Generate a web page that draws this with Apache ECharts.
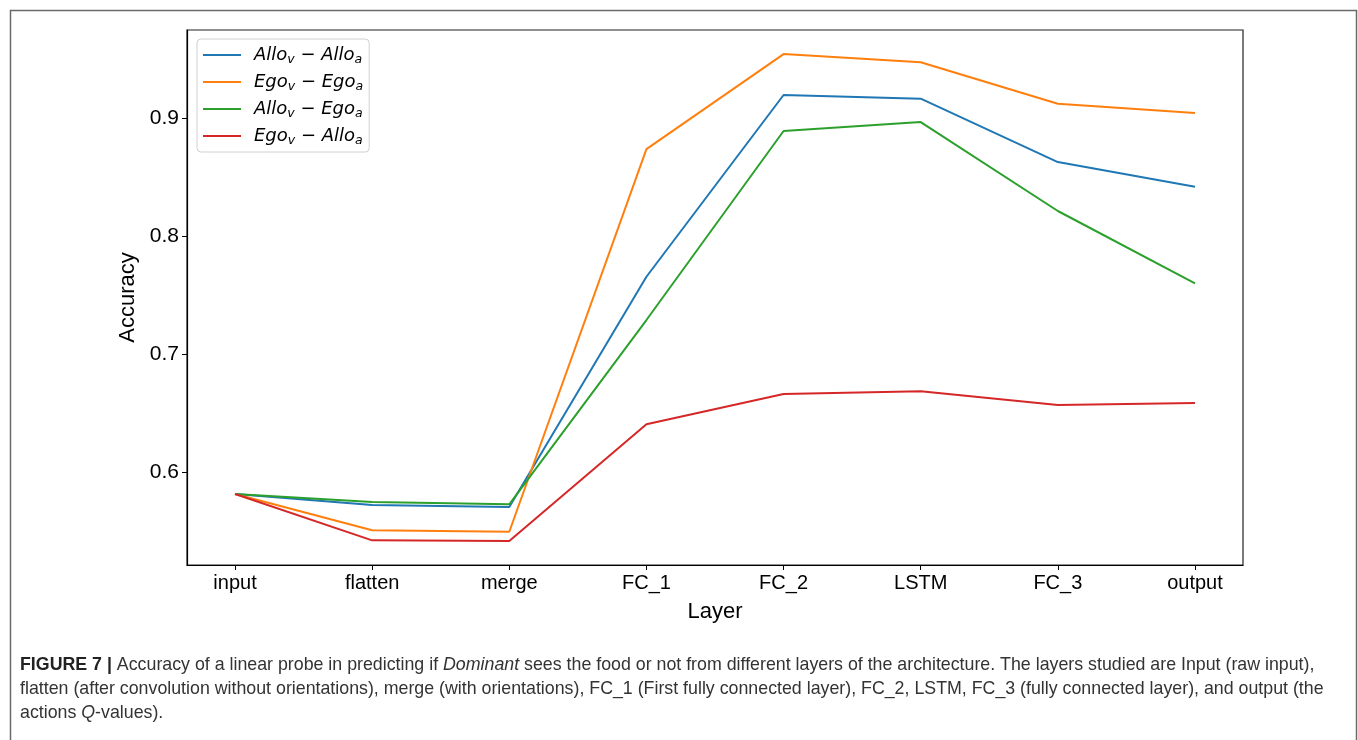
<!DOCTYPE html>
<html>
<head>
<meta charset="utf-8">
<script src="https://cdn.jsdelivr.net/npm/echarts@6/dist/echarts.min.js"></script>
<style>
html,body{margin:0;padding:0;background:#fff;}
#chart{width:1358px;height:740px;}
</style>
</head>
<body>
<div id="chart"></div>
<script>
const layers = ['input','flatten','merge','FC_1','FC_2','LSTM','FC_3','output'];
const yTicks = [0.6, 0.7, 0.8, 0.9];
const alloAllo = [0.5814, 0.5720, 0.5703, 0.7655, 0.9195, 0.9164, 0.8627, 0.8418];
const egoEgo   = [0.5814, 0.5506, 0.5494, 0.8737, 0.9542, 0.9472, 0.9121, 0.9042];
const alloEgo  = [0.5814, 0.5746, 0.5726, 0.7288, 0.8890, 0.8966, 0.8212, 0.7599];
const egoAllo  = [0.5814, 0.5421, 0.5415, 0.6404, 0.6661, 0.6684, 0.6568, 0.6585];
const seriesNames = ['Allo_v − Allo_a','Ego_v − Ego_a','Allo_v − Ego_a','Ego_v − Allo_a'];
const seriesValues = [alloAllo, egoEgo, alloEgo, egoAllo];
const colors = ['#1f77b4','#ff7f0e','#2ca02c','#d62728'];

const chart = echarts.init(document.getElementById('chart'), null, {renderer:'canvas'});
const font = '"Liberation Sans", Arial, Helvetica, sans-serif';

function legendFmt(name){
  return name.replace(/_(\w)/g, '{sub|$1}').replace(/([A-Za-z]+)(?=\{sub)/g, '{it|$1}').replace(' − ', '{it| − }');
}

const option = {
  animation:false,
  backgroundColor:'#fff',
  grid:{left:187, right:115, top:30, bottom:175, show:true, borderColor:'#222', borderWidth:1.2},
  legend:{
    left:197, top:39, orient:'vertical',
    padding:[5,6,5,6],
    backgroundColor:'#fff',
    borderColor:'#d0d0d0', borderWidth:1, borderRadius:4,
    itemWidth:38, itemHeight:2, itemGap:5,
    icon:'rect',
    data: seriesNames.map((n,i)=>({name:n, itemStyle:{color:colors[i]}})),
    formatter: legendFmt,
    textStyle:{
      padding:[0,0,0,8],
      rich:{
        it:{fontFamily:'"DejaVu Sans"', fontStyle:'italic', fontSize:18, color:'#000', lineHeight:22},
        sub:{fontFamily:'"DejaVu Sans"', fontStyle:'italic', fontSize:12.5, color:'#000', padding:[9,0,0,0], lineHeight:22}
      }
    }
  },
  xAxis:{
    type:'value', min:-0.35, max:7.35,
    name:'Layer', nameLocation:'middle', nameGap:36,
    nameTextStyle:{fontFamily:font, fontSize:22, color:'#000'},
    splitLine:{show:false},
    axisLine:{show:true, onZero:false, lineStyle:{color:'#000', width:1.2}},
    axisTick:{show:true, length:5, lineStyle:{color:'#000'}, customValues:[0,1,2,3,4,5,6,7]},
    axisLabel:{show:true, fontFamily:font, fontSize:20, color:'#000', margin:8,
      customValues:[0,1,2,3,4,5,6,7],
      formatter:(v)=>layers[Math.round(v)] }
  },
  yAxis:{
    type:'value', min:0.5212, max:0.9746,
    name:'Accuracy', nameLocation:'middle', nameGap:48,
    nameTextStyle:{fontFamily:font, fontSize:22, color:'#000'},
    splitLine:{show:false},
    axisLine:{show:true, onZero:false, lineStyle:{color:'#000', width:1.2}},
    axisTick:{show:true, length:5, lineStyle:{color:'#000'}, customValues:yTicks},
    axisLabel:{show:true, fontFamily:font, fontSize:21, color:'#000', margin:8,
      customValues:yTicks, formatter:(v)=>v.toFixed(1)}
  },
  series: seriesNames.map((n,i)=>({
    name:n, type:'line', symbol:'none', showSymbol:false,
    lineStyle:{color:colors[i], width:2},
    itemStyle:{color:colors[i]},
    data: seriesValues[i].map((v,j)=>[j, v])
  })),
  graphic:[
    {type:'rect', left:8, top:8, shape:{width:1346, height:740}, style:{fill:'none', stroke:'#6a6a6a', lineWidth:1.5}, silent:true, z:-1},
    {type:'text', left:20, top:656, style:{
      text:'{b|FIGURE 7 |} Accuracy of a linear probe in predicting if {i|Dominant} sees the food or not from different layers of the architecture. The layers studied are Input (raw input),',
      rich:{b:{fontWeight:'bold', fontFamily:font, fontSize:17.8, fill:'#222'}, i:{fontStyle:'italic', fontFamily:font, fontSize:17.8, fill:'#333'}},
      font:'17.8px ' + font, fill:'#333'}},
    {type:'text', left:20, top:680, style:{
      text:'flatten (after convolution without orientations), merge (with orientations), FC_1 (First fully connected layer), FC_2, LSTM, FC_3 (fully connected layer), and output (the',
      font:'17.8px ' + font, fill:'#333'}},
    {type:'text', left:20, top:704, style:{
      text:'actions {i|Q}-values).',
      rich:{i:{fontStyle:'italic', fontFamily:font, fontSize:17.8, fill:'#333'}},
      font:'17.8px ' + font, fill:'#333'}}
  ]
};
chart.setOption(option);
</script>
</body>
</html>
